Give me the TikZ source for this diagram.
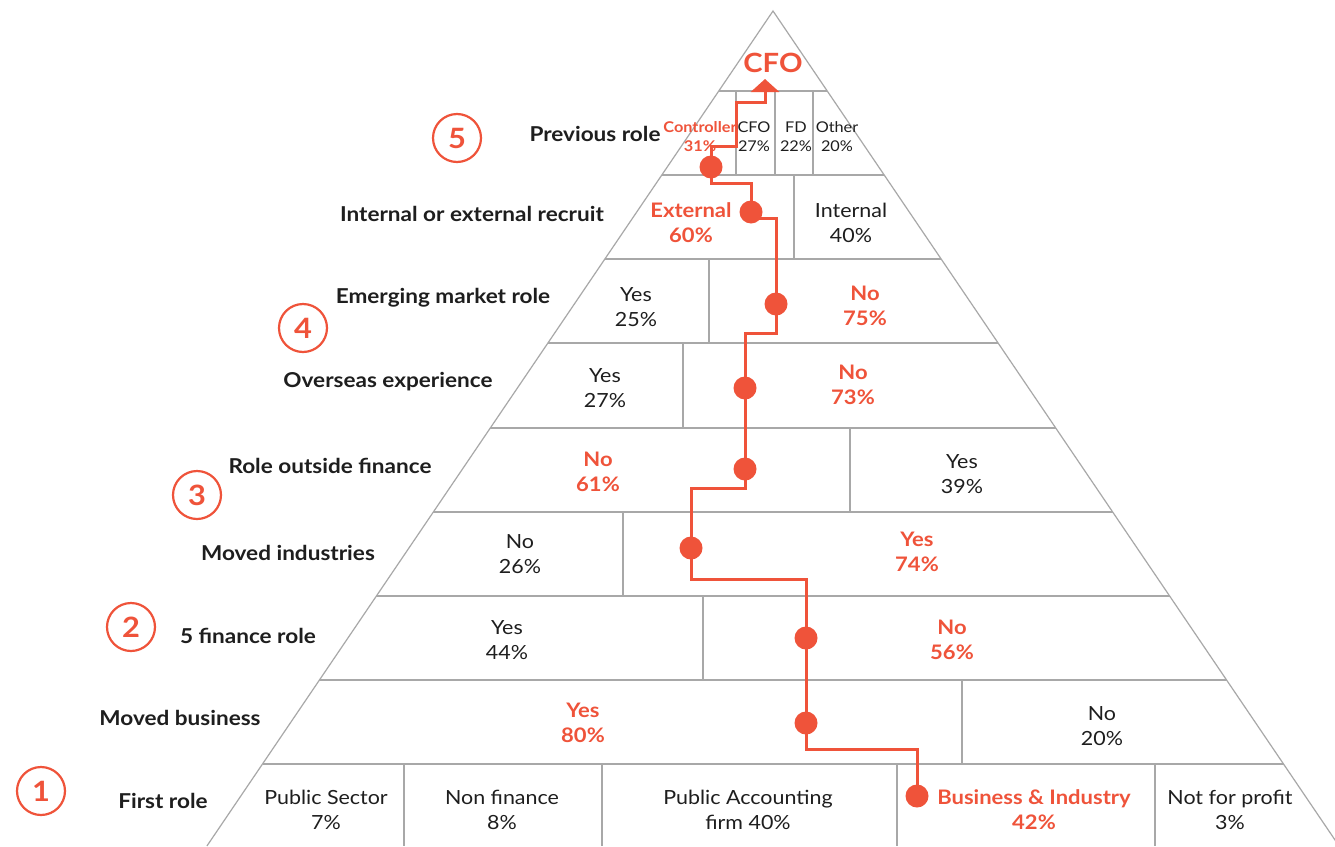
\documentclass[tikz,border=0pt]{standalone}
\usepackage{fontspec}
\setmainfont{Lato}[FakeStretch=1.1]
\usetikzlibrary{arrows.meta}
\definecolor{accent}{RGB}{239,83,58}
\definecolor{gridc}{RGB}{168,168,168}
\definecolor{ink}{RGB}{30,30,30}
\begin{document}
\begin{tikzpicture}[x=1pt,y=-1pt,
 frame/.style={draw=gridc,line width=1.2pt},
 lbl/.style={font=\fontsize{20.5}{23}\selectfont\bfseries,text=ink,inner sep=0},
 cellt/.style={font=\fontsize{19.5}{25}\selectfont,text=ink,align=center,inner sep=0},
 hit/.style={font=\fontsize{20}{25}\selectfont\bfseries,text=accent,align=center,inner sep=0},
 smallt/.style={font=\fontsize{14.8}{19}\selectfont,text=ink,align=center,inner sep=0},
 smallhit/.style={font=\fontsize{14.8}{19}\selectfont\bfseries,text=accent,align=center,inner sep=0},
 pdot/.style={circle,fill=accent,inner sep=0,minimum size=23pt},
 route/.style={draw=accent,line width=3pt},
 num/.style={circle,draw=accent,line width=2.2pt,minimum size=48pt,inner sep=0,text=accent,font=\fontsize{28}{28}\selectfont\bfseries},
]
\useasboundingbox (0,0) rectangle (1335,846);
\fill[white] (0,0) rectangle (1335,846);

% pyramid outline
\coordinate (A) at (773,11);
\coordinate (BL) at (206.9,846);
\coordinate (BR) at (1339.1,846);
\draw[frame] (BL) -- (A) -- (BR);

% row lines
\draw[frame] (718.8,91) -- (827.2,91);
\draw[frame] (661.8,175) -- (884.2,175);
\draw[frame] (604.9,259) -- (941.1,259);
\draw[frame] (547.9,343) -- (998.1,343);
\draw[frame] (490.3,428) -- (1055.7,428);
\draw[frame] (433.3,512) -- (1112.7,512);
\draw[frame] (376.4,596) -- (1169.6,596);
\draw[frame] (319.4,680) -- (1226.6,680);
\draw[frame] (262.5,764) -- (1283.5,764);

% dividers
\draw[frame] (736,91) -- (736,175);
\draw[frame] (775,91) -- (775,175);
\draw[frame] (813,91) -- (813,175);
\draw[frame] (794,175) -- (794,259);
\draw[frame] (709,259) -- (709,343);
\draw[frame] (683,343) -- (683,428);
\draw[frame] (850,428) -- (850,512);
\draw[frame] (623,512) -- (623,596);
\draw[frame] (703,596) -- (703,680);
\draw[frame] (962,680) -- (962,764);
\draw[frame] (404,764) -- (404,846);
\draw[frame] (602,764) -- (602,846);
\draw[frame] (897,764) -- (897,846);
\draw[frame] (1155,764) -- (1155,846);

% top
\node[font=\fontsize{26.5}{26.5}\selectfont\bfseries,text=accent] (cfo) at (773,63) {CFO};

% previous role row
\node[smallhit] (pctl) at (700,137) {Controller\\31\%};
\node[smallt] (pcfo) at (754,137) {CFO\\27\%};
\node[smallt] (pfd) at (796,137) {FD\\22\%};
\node[smallt] (poth) at (837,137) {Other\\20\%};

% cells
\node[hit] (ext) at (691,223) {External\\60\%};
\node[cellt] (int) at (851,223) {Internal\\40\%};
\node[cellt] (emy) at (636,307) {Yes\\25\%};
\node[hit] (emn) at (865,306) {No\\75\%};
\node[cellt] (ovy) at (605,388) {Yes\\27\%};
\node[hit] (ovn) at (853,385) {No\\73\%};
\node[hit] (ron) at (598,472) {No\\61\%};
\node[cellt] (roy) at (962,474) {Yes\\39\%};
\node[cellt] (min) at (520,554) {No\\26\%};
\node[hit] (miy) at (917,552) {Yes\\74\%};
\node[cellt] (fiy) at (507,640) {Yes\\44\%};
\node[hit] (fin) at (952,640) {No\\56\%};
\node[hit] (mby) at (583,723) {Yes\\80\%};
\node[cellt] (mbn) at (1102,726) {No\\20\%};
\node[cellt] (fps) at (326,810) {Public Sector\\7\%};
\node[cellt] (fnf) at (502,810) {Non finance\\8\%};
\node[cellt] (fpa) at (748,810) {Public Accounting\\firm 40\%};
\node[hit] (fbi) at (1034,810) {Business \& Industry\\42\%};
\node[cellt] (fnp) at (1230,810) {Not for profit\\3\%};

% left labels
\node[lbl] (l9) at (595,134) {Previous role};
\node[lbl] (l8) at (472,214) {Internal or external recruit};
\node[lbl] (l7) at (443,298) {Emerging market role};
\node[lbl] (l6) at (388,382) {Overseas experience};
\node[lbl] (l5) at (330,466) {Role outside finance};
\node[lbl] (l4) at (288,553) {Moved industries};
\node[lbl] (l3) at (248,636) {5 finance role};
\node[lbl] (l2) at (180,718) {Moved business};
\node[lbl] (l1) at (163,801) {First role};

% numbered circles
\node[num] (n5) at (457,138) {5};
\node[num] (n4) at (303,328) {4};
\node[num] (n3) at (197,495) {3};
\node[num] (n2) at (131,627) {2};
\node[num] (n1) at (41,791) {1};

% path dots
\node[pdot] (d1) at (917,796) {};
\node[pdot] (d2) at (806,723) {};
\node[pdot] (d3) at (806,638) {};
\node[pdot] (d4) at (691,548) {};
\node[pdot] (d5) at (745,469) {};
\node[pdot] (d6) at (745,388) {};
\node[pdot] (d7) at (776,304) {};
\node[pdot] (d8) at (751,212) {};
\node[pdot] (d9) at (711,167) {};
\coordinate (tip) at (765,79);

% route
\draw[route] (d1.center) -- (917,749) -- (806,749) -- (d2.center);
\draw[route] (d2.center) -- (d3.center);
\draw[route] (d3.center) -- (806,579) -- (691,579) -- (d4.center);
\draw[route] (d4.center) -- (691,488) -- (745,488) -- (d5.center);
\draw[route] (d5.center) -- (d6.center);
\draw[route] (d6.center) -- (745,333) -- (776,333) -- (d7.center);
\draw[route] (d7.center) -- (776,218) -- (751,218);
\draw[route] (d8.center) -- (751,183) -- (711,183) -- (d9.center);
\draw[route,-{Triangle[width=28pt,length=13pt]}] (d9.center) -- (711,146) -- (736,146) -- (736,102) -- (765,102) -- (tip);
\end{tikzpicture}
\end{document}
